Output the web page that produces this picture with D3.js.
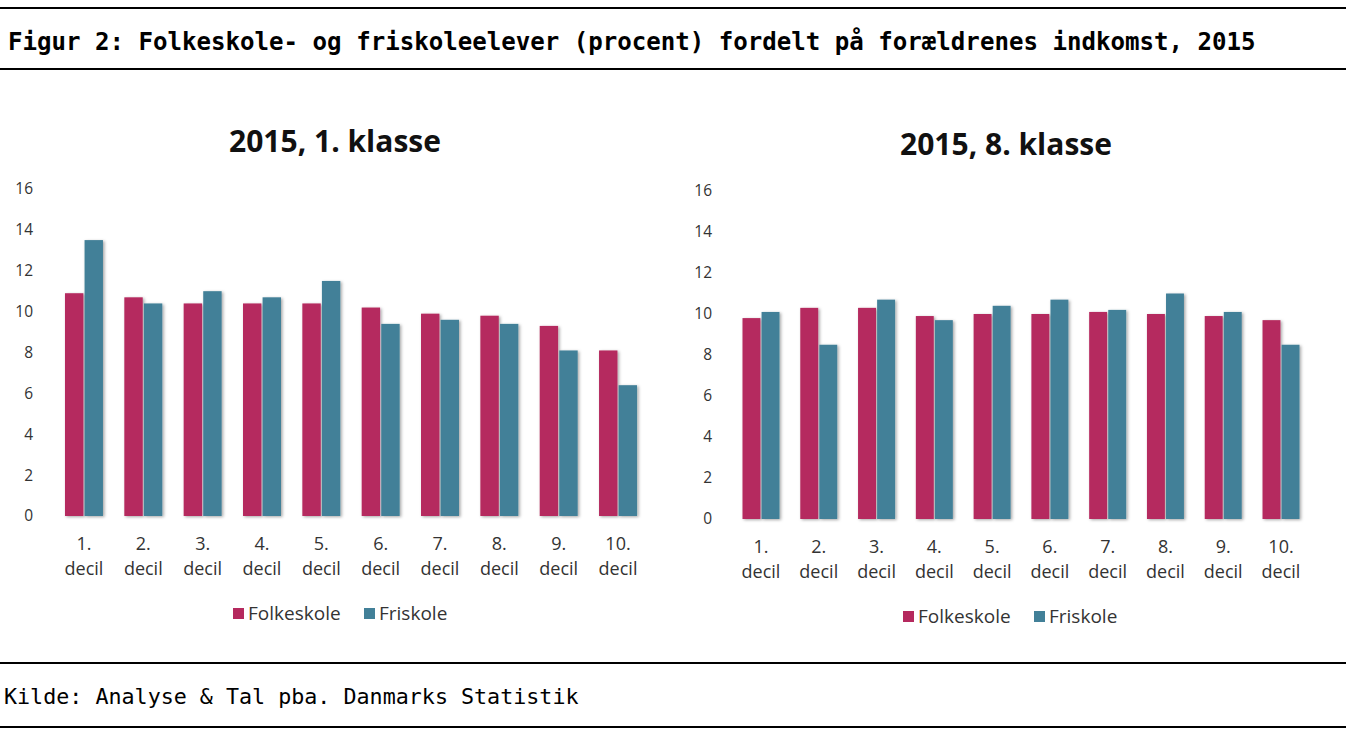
<!DOCTYPE html>
<html>
<head>
<meta charset="utf-8">
<script src="https://cdn.jsdelivr.net/npm/d3@7"></script>
<style>
  html, body { margin: 0; padding: 0; background: #fff; }
  svg { display: block; }
</style>
</head>
<body>
<svg id="chart" width="1346" height="731"></svg>
<script>
// ---------- data ----------
const categories = ["1. decil","2. decil","3. decil","4. decil","5. decil","6. decil","7. decil","8. decil","9. decil","10. decil"];
const seriesNames = ["Folkeskole","Friskole"];
const folkeskole1 = [10.9,10.7,10.4,10.4,10.4,10.2,9.9,9.8,9.3,8.1];
const friskole1   = [13.5,10.4,11.0,10.7,11.5,9.4,9.6,9.4,8.1,6.4];
const folkeskole8 = [9.8,10.3,10.3,9.9,10.0,10.0,10.1,10.0,9.9,9.7];
const friskole8   = [10.1,8.5,10.7,9.7,10.4,10.7,10.2,11.0,10.1,8.5];
const yTicks = [0,2,4,6,8,10,12,14,16];
const chartTitles = ["2015, 1. klasse","2015, 8. klasse"];
const figureTitle = "Figur 2: Folkeskole- og friskoleelever (procent) fordelt på forældrenes indkomst, 2015";
const sourceText = "Kilde: Analyse & Tal pba. Danmarks Statistik";

const colors = {"Folkeskole":"#b5295e","Friskole":"#428098"};

const svg = d3.select("#chart");
const W = 1346;

// shadow filter
const defs = svg.append("defs");
const f = defs.append("filter").attr("id","shadow").attr("x","-20%").attr("y","-5%").attr("width","150%").attr("height","115%");
f.append("feDropShadow").attr("dx",1.5).attr("dy",1).attr("stdDeviation",1.4).attr("flood-color","#000").attr("flood-opacity",0.35);

// ---------- frame ----------
[8, 69, 663, 727].forEach(y => {
  svg.append("line").attr("x1",0).attr("x2",W).attr("y1",y).attr("y2",y)
    .attr("stroke","#000").attr("stroke-width",2);
});
svg.append("text").attr("x",8).attr("y",50)
  .style("font-family","'DejaVu Sans Mono', monospace").style("font-weight","bold").style("font-size","24.1px")
  .attr("fill","#000").text(figureTitle);
svg.append("text").attr("x",4).attr("y",704)
  .style("font-family","'DejaVu Sans Mono', monospace").style("font-size","21.7px")
  .attr("fill","#000").text(sourceText);

// ---------- panels ----------
const panels = [
  {title: chartTitles[0], a: folkeskole1, b: friskole1, x0: 54.3, x1: 647.7, y0: 516, y16: 189, axisX: 36,
   titleX: 335, titleY: 152, lab1Y: 550, lab2Y: 575, legX: 233, legY: 608},
  {title: chartTitles[1], a: folkeskole8, b: friskole8, x0: 732.1, x1: 1309.9, y0: 519, y16: 191, axisX: 715,
   titleX: 1006, titleY: 155, lab1Y: 553, lab2Y: 578, legX: 903, legY: 611}
];

panels.forEach(p => {
  const g = svg.append("g");
  const x = d3.scaleBand().domain(categories).range([p.x0, p.x1]).paddingInner(0.36).paddingOuter(0.18);
  const xs = d3.scaleBand().domain(seriesNames).range([0, x.bandwidth()]).paddingInner(0.06);
  const y = d3.scaleLinear().domain([0,16]).range([p.y0, p.y16]);

  // title
  g.append("text").attr("x",p.titleX).attr("y",p.titleY).attr("text-anchor","middle")
    .style("font-family","'Open Sans', sans-serif").style("font-weight","bold").style("font-size","30px")
    .attr("fill","#111").text(p.title);

  // y axis
  const ax = g.append("g").attr("transform",`translate(${p.axisX},0)`)
    .call(d3.axisLeft(y).tickValues(yTicks).tickSize(0).tickPadding(3));
  ax.select(".domain").remove();
  ax.selectAll("text").style("font-family","'Open Sans', sans-serif").style("font-size","15.5px").attr("fill","#333");

  // bars
  const rows = categories.map((c,i) => ({cat:c, vals:[{s:"Folkeskole", v:p.a[i]},{s:"Friskole", v:p.b[i]}]}));
  const grp = g.selectAll("g.grp").data(rows).join("g").attr("class","grp")
    .attr("transform", d => `translate(${x(d.cat)},0)`);
  grp.selectAll("rect").data(d => d.vals).join("rect")
    .attr("x", d => xs(d.s)).attr("width", xs.bandwidth())
    .attr("y", d => y(d.v)).attr("height", d => y(0) - y(d.v))
    .attr("fill", d => colors[d.s]).attr("filter","url(#shadow)");

  // x labels
  const xl = g.selectAll("text.xl").data(categories).join("text").attr("class","xl")
    .attr("text-anchor","middle")
    .style("font-family","'Open Sans', sans-serif").style("font-size","18px").attr("fill","#333");
  xl.append("tspan").attr("x", d => x(d) + x.bandwidth()/2).attr("y", p.lab1Y).text(d => d.split(" ")[0]);
  xl.append("tspan").attr("x", d => x(d) + x.bandwidth()/2).attr("y", p.lab2Y).text(d => d.split(" ")[1]);

  // legend
  const legOffsets = [0, 131];
  seriesNames.forEach((s, i) => {
    const lx = p.legX + legOffsets[i];
    g.append("rect").attr("x", lx).attr("y", p.legY).attr("width", 11).attr("height", 11).attr("fill", colors[s]);
    g.append("text").attr("x", lx + 15).attr("y", p.legY + 11.5)
      .style("font-family","'Open Sans', sans-serif").style("font-size","19px").attr("fill","#333").text(s);
  });
});
</script>
</body>
</html>
